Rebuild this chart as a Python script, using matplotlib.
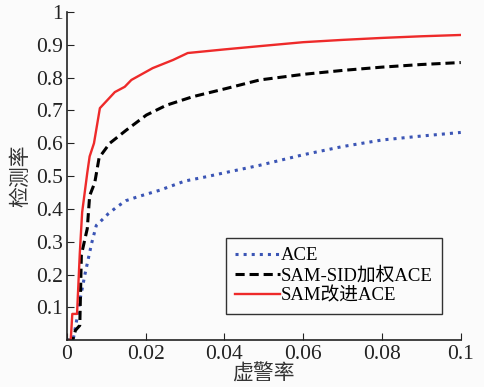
import matplotlib
matplotlib.use("Agg")
import matplotlib.pyplot as plt

plt.rcParams['font.family'] = ['Liberation Serif', 'Noto Sans CJK SC']

# 虚警率 / 检测率 curves
ace_x = [0, 0.0016, 0.0025, 0.0033, 0.0046, 0.0063, 0.0075, 0.0084, 0.0105, 0.0126,
         0.015, 0.018, 0.0236, 0.03, 0.035, 0.04, 0.049, 0.06, 0.07, 0.08, 0.09, 0.1]
ace_y = [0, 0, 0.06, 0.12, 0.2, 0.295, 0.35, 0.36, 0.385, 0.405,
         0.425, 0.437, 0.457, 0.485, 0.497, 0.51, 0.533, 0.565, 0.59, 0.61, 0.622, 0.633]

sid_x = [0, 0.0015, 0.0022, 0.0033, 0.0037, 0.0052, 0.0058, 0.0071, 0.0082, 0.0109,
         0.0151, 0.0202, 0.0253, 0.032, 0.0405, 0.049, 0.06, 0.07, 0.08, 0.09, 0.1]
sid_y = [0, 0, 0.03, 0.045, 0.26, 0.34, 0.44, 0.48, 0.556, 0.6,
         0.64, 0.686, 0.716, 0.742, 0.767, 0.793, 0.81, 0.822, 0.832, 0.84, 0.846]

sam_x = [0, 0.001, 0.0014, 0.0026, 0.0033, 0.0039, 0.0052, 0.0058, 0.0069, 0.0084,
         0.0122, 0.0147, 0.0164, 0.0218, 0.027, 0.0307, 0.04, 0.049, 0.06, 0.07,
         0.08, 0.09, 0.1]
sam_y = [0, 0, 0.08, 0.08, 0.265, 0.39, 0.51, 0.56, 0.6, 0.707,
         0.756, 0.772, 0.793, 0.829, 0.854, 0.875, 0.886, 0.896, 0.908, 0.915,
         0.921, 0.926, 0.93]

labels = ['ACE', 'SAM-SID加权ACE', 'SAM改进ACE']
xticks = [0, 0.02, 0.04, 0.06, 0.08, 0.1]
xtick_labels = ['0', '0.02', '0.04', '0.06', '0.08', '0.1']
yticks = [0.1, 0.2, 0.3, 0.4, 0.5, 0.6, 0.7, 0.8, 0.9, 1]
ytick_labels = ['0.1', '0.2', '0.3', '0.4', '0.5', '0.6', '0.7', '0.8', '0.9', '1']

fig = plt.figure(figsize=(4.84, 3.87), dpi=100, facecolor='#fbfbfb')
ax = fig.add_axes([0.138, 0.121, 0.814, 0.848], facecolor='#fbfbfb')

ax.plot(ace_x, ace_y, ':', color='#3b55b5', lw=2.2, label=labels[0])
ax.plot(sid_x, sid_y, '--', color='black', lw=2.2, dashes=(3, 1.6), label=labels[1])
ax.plot(sam_x, sam_y, '-', color='#ee2a2a', lw=1.7, label=labels[2])

ax.set_xlim(0, 0.1)
ax.set_ylim(0, 1)
ax.set_xticks(xticks)
ax.set_xticklabels(xtick_labels)
ax.set_yticks(yticks)
ax.set_yticklabels(ytick_labels)
ax.tick_params(direction='in', length=5, labelsize=15.5, colors='#222222')
ax.tick_params(axis='y', pad=3)
ax.spines['top'].set_visible(False)
ax.spines['right'].set_visible(False)
for s in ['left', 'bottom']:
    ax.spines[s].set_linewidth(1.2)
    ax.spines[s].set_color('#222222')

ax.set_xlabel('虚警率', fontsize=15, labelpad=0, color='#333333')
ax.set_ylabel('检测率', fontsize=15, labelpad=3, color='#333333')

leg = ax.legend(loc='lower right', bbox_to_anchor=(0.953, 0.08), fontsize=13.5,
                frameon=True, fancybox=False, edgecolor='black', handlelength=2.4,
                handletextpad=0.05, borderpad=0.5, labelspacing=0.15, borderaxespad=0)
leg.get_frame().set_linewidth(1.0)
leg.get_frame().set_facecolor('#fbfbfb')

fig.savefig('out.png', dpi=100, facecolor=fig.get_facecolor())
